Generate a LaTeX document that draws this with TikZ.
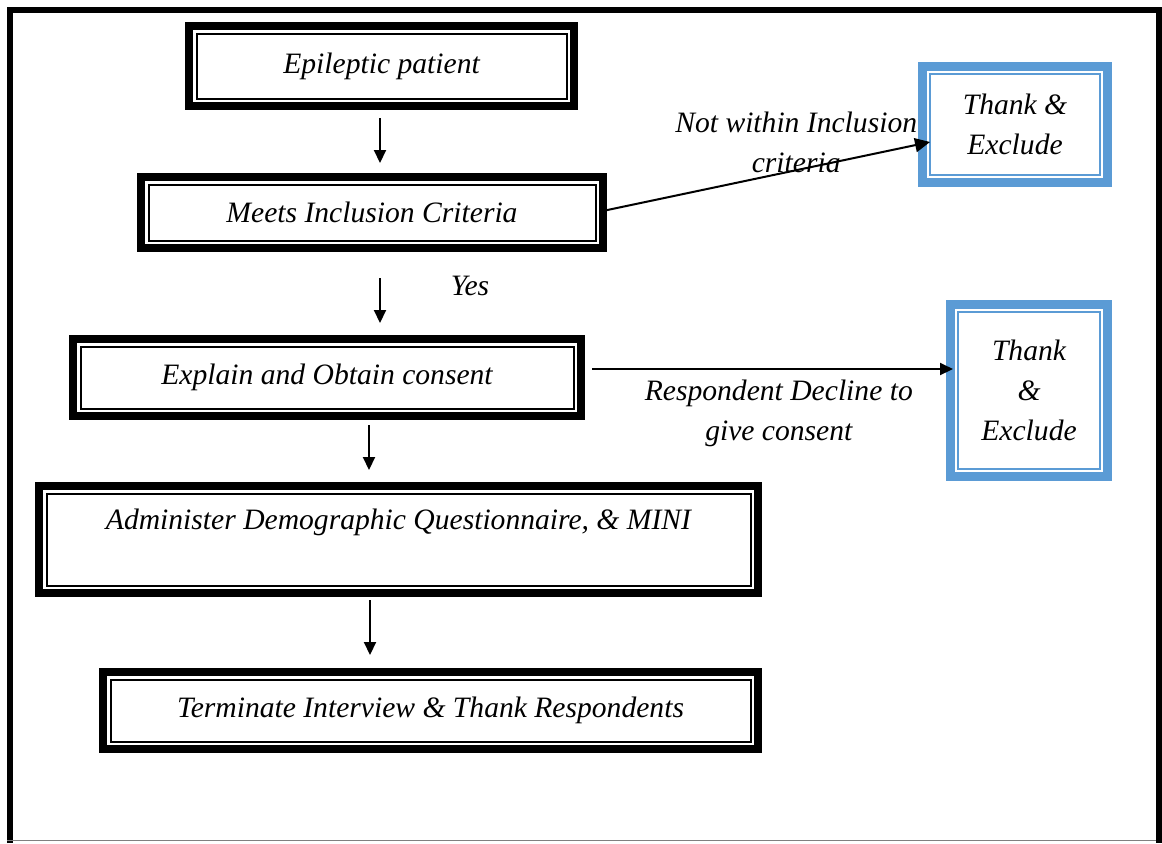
\documentclass[tikz,border=0pt]{standalone}
\usepackage{fontspec}
\setmainfont{Liberation Serif}
\usetikzlibrary{arrows.meta}
\definecolor{exitblue}{HTML}{5B9BD5}

\begin{document}
\begin{tikzpicture}[
  x=0.5pt,y=-0.5pt,
  >={Triangle[length=6.5pt,width=6pt]},
  every node/.style={font=\fontsize{14.8}{20}\selectfont\itshape},
  block/.style={draw,line width=1pt,outer sep=0pt,inner sep=0pt,align=center},
  exitbox/.style={block,draw=exitblue},
  flow/.style={->,line width=1pt},
  note/.style={align=center,inner sep=0pt}
]
  \useasboundingbox (0,0) rectangle (1162,843);
  % page frame
  \draw[line width=3pt] (10,843) -- (10,9.5) -- (1159,9.5) -- (1159,843);
  \draw[gray,line width=0.75pt] (7,840.5) -- (1156,840.5);

  \node[block,minimum width=185pt,minimum height=32.5pt] (pat) at (381.5,66) {Epileptic patient};
  \node[block,minimum width=223.5pt,minimum height=28pt] (inc) at (372,212.5) {Meets Inclusion Criteria};
  \node[block,minimum width=246.5pt,minimum height=31pt] (con) at (327,377.5) {Explain and Obtain consent};
  \node[block,minimum width=352pt,minimum height=46pt] (adm) at (398.5,539.5) {Administer Demographic Questionnaire, \& MINI\\ \mbox{}};
  \node[block,minimum width=320pt,minimum height=31pt] (end) at (430.5,710.5) {Terminate Interview \& Thank Respondents};
  \node[exitbox,minimum width=85pt,minimum height=50.5pt] (ex1) at (1015,124.5) {Thank \&\\Exclude};
  \node[exitbox,minimum width=71pt,minimum height=78.5pt] (ex2) at (1029,390.5) {Thank\\\&\\Exclude};

  % thick outer frames
  \foreach \n in {pat,inc,con,adm,end}
    \draw[line width=4pt] ([shift={(-3.75pt,3.75pt)}]\n.north west) rectangle ([shift={(3.75pt,-3.75pt)}]\n.south east);
  \foreach \n in {ex1,ex2}
    \draw[exitblue,line width=4.5pt] ([shift={(-3.75pt,3.75pt)}]\n.north west) rectangle ([shift={(3.75pt,-3.75pt)}]\n.south east);

  \draw[flow,shorten <=9.75pt,shorten >=10.75pt] ([xshift=-0.75pt]pat.south) -- ([xshift=-0.75pt]pat.south |- inc.north);
  \draw[flow,shorten <=18.75pt,shorten >=11.75pt] ([xshift=4pt]inc.south) -- ([xshift=4pt]inc.south |- con.north);
  \node[note] (yes) at (470,286) {Yes};
  \draw[flow,shorten <=8.25pt,shorten >=11.75pt] ([xshift=21pt]con.south) -- ([xshift=21pt]con.south |- adm.north);
  \draw[flow,shorten <=7.25pt,shorten >=12.25pt] ([xshift=-14.25pt]adm.south) -- ([xshift=-14.25pt]adm.south |- end.north);

  \draw[flow,shorten <=5.75pt,>={Triangle[length=7.5pt,width=7pt]}] (inc.east) -- node[note,pos=.6,yshift=14pt] (why) {Not within Inclusion\\criteria} ([yshift=-8.75pt]ex1.west);
  \draw[flow,shorten <=9.25pt,shorten >=2.5pt] ([yshift=4.25pt]con.east) -- node[note,pos=.534,yshift=-22pt] (decl) {Respondent Decline to\\give consent} ([yshift=4.25pt]con.east -| ex2.west);
\end{tikzpicture}
\end{document}
